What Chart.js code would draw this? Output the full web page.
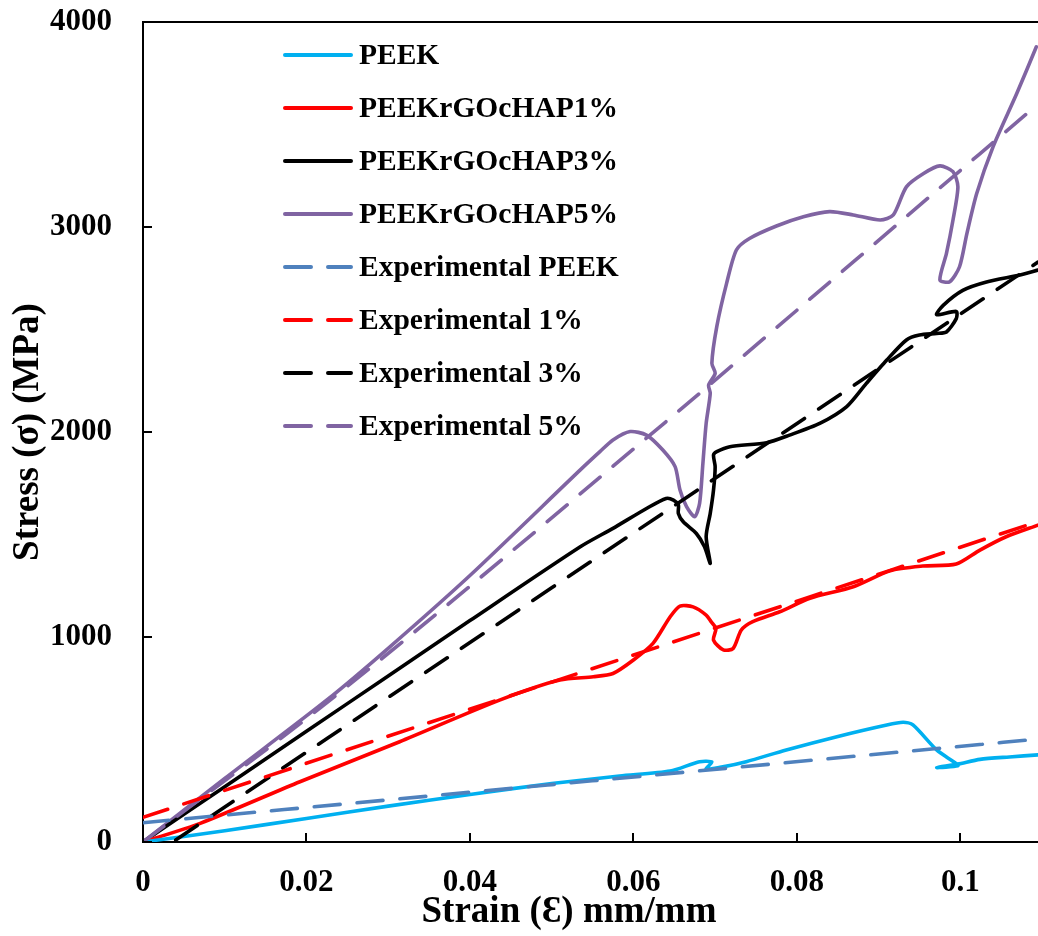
<!DOCTYPE html>
<html>
<head>
<meta charset="utf-8">
<script src="https://cdn.jsdelivr.net/npm/chart.js@4.4.1/dist/chart.umd.min.js"></script>
<style>
  html, body { margin: 0; padding: 0; background: #ffffff; }
  #wrap { position: relative; width: 1038px; height: 936px; overflow: hidden; }
  #legend { position: absolute; left: 283px; top: 28px; font-family: 'Liberation Serif', 'Times New Roman', serif; font-weight: bold; font-size: 29.5px; color: #000; }
  .row { display: flex; align-items: center; height: 53px; white-space: nowrap; }
  .row svg { display: block; margin-right: 6px; }
</style>
</head>
<body>
<div id="wrap">
  <canvas id="c" width="1038" height="936"></canvas>
  <div id="legend"></div>
</div>
<script>
// ---- data ----
const seriesLabels = ['PEEK', 'PEEKrGOcHAP1%', 'PEEKrGOcHAP3%', 'PEEKrGOcHAP5%',
  'Experimental PEEK', 'Experimental 1%', 'Experimental 3%', 'Experimental 5%'];

const xTickValues = [0, 0.02, 0.04, 0.06, 0.08, 0.1];
const yTickValues = [0, 1000, 2000, 3000, 4000];

const peekStrain = [0, 0.01, 0.02, 0.03, 0.04, 0.05, 0.0583, 0.0645, 0.0681, 0.0696, 0.0689, 0.0706, 0.0738, 0.0787, 0.0849, 0.0910, 0.0930, 0.0942, 0.0971, 0.0993, 0.0997, 0.0971, 0.0997, 0.1024, 0.1060, 0.1095];
const peekStress = [0, 55, 115, 175, 232, 285, 322, 346, 392, 390, 356, 364, 392, 449, 514, 571, 584, 571, 449, 388, 372, 363, 380, 403, 415, 425];

const p1Strain = [0, 0.007, 0.0192, 0.0314, 0.0437, 0.0510, 0.0551, 0.0575, 0.0600, 0.0624, 0.0645, 0.0657, 0.0673, 0.0689, 0.0695, 0.0701, 0.0698, 0.0710, 0.0722, 0.0732, 0.0746, 0.0779, 0.0816, 0.0869, 0.0914, 0.0954, 0.0995, 0.1024, 0.1056, 0.1095];
const p1Stress = [0, 91, 294, 489, 693, 790, 806, 822, 888, 969, 1099, 1151, 1147, 1107, 1075, 1042, 985, 937, 944, 1034, 1075, 1123, 1189, 1245, 1323, 1346, 1356, 1424, 1489, 1546];

const p3Strain = [0, 0.01, 0.02, 0.03, 0.04, 0.0535, 0.0575, 0.0616, 0.0640, 0.0649, 0.0655, 0.0655, 0.0661, 0.0677, 0.0687, 0.0694, 0.0689, 0.0694, 0.0698, 0.0700, 0.0698, 0.0702, 0.0718, 0.0763, 0.0791, 0.0828, 0.0861, 0.0885, 0.0910, 0.0934, 0.0950, 0.0971, 0.0983, 0.0995, 0.0995, 0.0971, 0.0979, 0.1003, 0.1032, 0.1073, 0.1095];
const p3Stress = [0, 270, 540, 810, 1080, 1440, 1530, 1627, 1676, 1668, 1644, 1603, 1562, 1505, 1440, 1359, 1489, 1603, 1717, 1831, 1888, 1904, 1928, 1948, 1985, 2042, 2124, 2237, 2351, 2449, 2473, 2481, 2488, 2553, 2588, 2572, 2618, 2691, 2732, 2766, 2790];

const p5Strain = [0, 0.01, 0.0225, 0.03, 0.04, 0.0535, 0.0559, 0.0575, 0.0596, 0.0616, 0.0636, 0.0651, 0.0657, 0.0665, 0.0675, 0.0681, 0.0685, 0.0689, 0.0694, 0.0692, 0.0700, 0.0696, 0.0702, 0.0714, 0.0726, 0.0742, 0.0775, 0.0808, 0.0840, 0.0869, 0.0902, 0.0918, 0.0934, 0.0955, 0.0975, 0.0991, 0.0997, 0.0991, 0.0983, 0.0975, 0.0987, 0.0999, 0.1008, 0.1020, 0.1040, 0.1069, 0.1093];
const p5Stress = [0, 310, 693, 945, 1300, 1815, 1904, 1961, 2002, 1985, 1912, 1831, 1717, 1636, 1587, 1652, 1846, 2042, 2188, 2229, 2286, 2335, 2514, 2725, 2888, 2944, 3005, 3050, 3075, 3059, 3034, 3059, 3196, 3261, 3298, 3270, 3196, 3034, 2871, 2741, 2733, 2806, 2968, 3163, 3391, 3651, 3879];

const expPeekStrain = [0, 0.05, 0.1095];
const expPeekStress = [94, 280, 502];

const exp1Strain = [0, 0.05, 0.1095];
const exp1Stress = [120, 780, 1563];

const exp3Strain = [0.004, 0.05, 0.1095];
const exp3Stress = [10, 1240, 2829];

const exp5Strain = [0, 0.0225, 0.0632, 0.0873, 0.1095];
const exp5Stress = [0, 680, 2024, 2843, 3600];

const colors = ['#00B0F0', '#FF0000', '#000000', '#8064A2', '#4F81BD', '#FF0000', '#000000', '#8064A2'];

// ---- build datasets ----
const strainSets = [peekStrain, p1Strain, p3Strain, p5Strain, expPeekStrain, exp1Strain, exp3Strain, exp5Strain];
const stressSets = [peekStress, p1Stress, p3Stress, p5Stress, expPeekStress, exp1Stress, exp3Stress, exp5Stress];
const DASH = [26, 17];

const datasets = seriesLabels.map((label, i) => {
  const dashed = i >= 4;
  return {
    label,
    data: strainSets[i].map((x, k) => ({ x, y: stressSets[i][k] })),
    borderColor: colors[i],
    backgroundColor: colors[i],
    borderWidth: 3.6,
    borderDash: dashed ? DASH : [],
    borderCapStyle: 'round',
    borderJoinStyle: 'round',
    pointRadius: 0,
    pointHoverRadius: 0,
    showLine: true,
    fill: false,
    tension: dashed ? 0.4 : 0.25,
    cubicInterpolationMode: dashed ? 'monotone' : 'default',
    order: dashed ? 0 : 1
  };
});

const FONT = "'Liberation Serif', 'Times New Roman', serif";

const framePlugin = {
  id: 'frame',
  afterDraw(chart) {
    const { ctx, chartArea } = chart;
    const xs = chart.scales.x, ys = chart.scales.y;
    ctx.save();
    ctx.strokeStyle = '#000';
    ctx.lineWidth = 2;
    // top border
    ctx.beginPath();
    ctx.moveTo(chartArea.left, chartArea.top);
    ctx.lineTo(chartArea.right, chartArea.top);
    ctx.stroke();
    // inward tick marks
    ctx.beginPath();
    xs.ticks.forEach(t => {
      const px = Math.round(xs.getPixelForValue(t.value));
      ctx.moveTo(px, chartArea.bottom);
      ctx.lineTo(px, chartArea.bottom - 9);
    });
    ys.ticks.forEach(t => {
      const py = Math.round(ys.getPixelForValue(t.value));
      ctx.moveTo(chartArea.left, py);
      ctx.lineTo(chartArea.left + 9, py);
    });
    ctx.stroke();
    // x axis title
    ctx.fillStyle = '#000';
    ctx.font = 'bold 37px ' + FONT;
    ctx.textAlign = 'center';
    ctx.textBaseline = 'middle';
    ctx.fillText('Strain (\u0190) mm/mm', 569, 912);
    ctx.restore();
  }
};

new Chart(document.getElementById('c'), {
  type: 'scatter',
  data: { datasets },
  options: {
    responsive: false,
    animation: false,
    devicePixelRatio: 1,
    layout: { padding: { top: 22, right: 0, left: 0, bottom: 0 } },
    plugins: { legend: { display: false }, tooltip: { enabled: false } },
    scales: {
      x: {
        type: 'linear',
        min: 0,
        max: 0.1095,
        afterBuildTicks: s => { s.ticks = xTickValues.map(v => ({ value: v })); },
        afterFit: s => { s.height = 94; s.paddingLeft = 0; s.paddingRight = 0; },
        grid: { display: false, drawTicks: false },
        border: { display: true, color: '#000', width: 2 },
        ticks: {
          autoSkip: false, maxRotation: 0, padding: 22, color: '#000',
          font: { family: FONT, weight: 'bold', size: 31 },
          callback: v => String(+Number(v).toFixed(2))
        },
        title: { display: false }
      },
      y: {
        type: 'linear',
        min: 0,
        max: 4000,
        afterBuildTicks: s => { s.ticks = yTickValues.map(v => ({ value: v })); },
        afterFit: s => { s.width = 143; s.paddingTop = 0; s.paddingBottom = 0; },
        grid: { display: false, drawTicks: false },
        border: { display: true, color: '#000', width: 2 },
        ticks: {
          autoSkip: false, padding: 31, color: '#000',
          font: { family: FONT, weight: 'bold', size: 31 },
          callback: v => String(v)
        },
        title: {
          display: true, text: 'Stress (\u03C3) (MPa)', color: '#000',
          font: { family: FONT, weight: 'bold', size: 37 },
          padding: { top: 6, bottom: 0 }
        }
      }
    }
  },
  plugins: [framePlugin]
});

// ---- HTML legend built from the datasets ----
const legendEl = document.getElementById('legend');
datasets.forEach(d => {
  const row = document.createElement('div');
  row.className = 'row';
  const dash = d.borderDash.length ? ` stroke-dasharray="${d.borderDash.join(' ')}"` : '';
  row.innerHTML = `<svg width="70" height="10"><line x1="2" y1="5" x2="68" y2="5" stroke="${d.borderColor}" stroke-width="4" stroke-linecap="round"${dash}/></svg><span>${d.label}</span>`;
  legendEl.appendChild(row);
});
</script>
</body>
</html>
